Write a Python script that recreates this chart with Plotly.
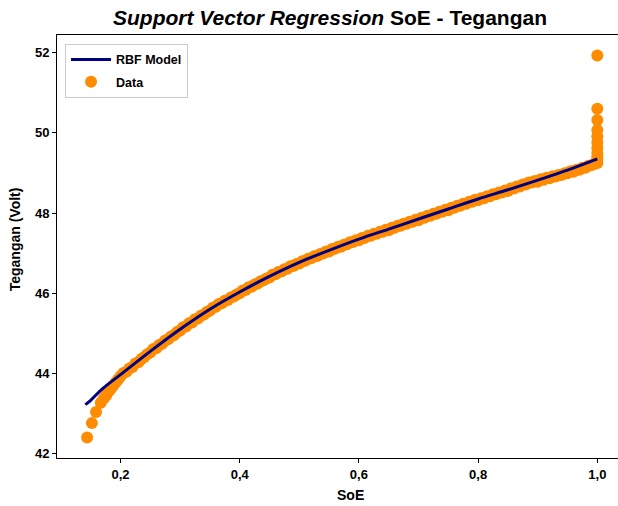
import plotly.graph_objects as go

# SVR (RBF kernel) fitted curve: state of energy vs. battery voltage
model_soe = [0.141, 0.15, 0.17, 0.2, 0.25, 0.3, 0.35, 0.4, 0.45, 0.5,
             0.55, 0.6, 0.65, 0.7, 0.75, 0.8, 0.85, 0.9, 0.95, 1.0]
model_volt = [43.22, 43.33, 43.62, 43.97, 44.55, 45.10, 45.60, 46.03, 46.42, 46.77,
              47.07, 47.35, 47.60, 47.85, 48.10, 48.35, 48.58, 48.82, 49.07, 49.35]

# Measured samples
data_soe = [
    0.144, 0.152, 0.159, 0.167, 0.172, 0.176, 0.180, 0.184, 0.188, 0.192, 0.196,
    0.200, 0.205, 0.210, 0.215, 0.220, 0.225, 0.230, 0.235, 0.240, 0.245,
    0.250, 0.255, 0.260, 0.265, 0.270, 0.275, 0.280, 0.285, 0.290, 0.295,
    0.300, 0.305, 0.310, 0.315, 0.320, 0.325, 0.330, 0.335, 0.340, 0.345,
    0.350, 0.355, 0.360, 0.365, 0.370, 0.375, 0.380, 0.385, 0.390, 0.395,
    0.400, 0.405, 0.410, 0.415, 0.420, 0.425, 0.430, 0.435, 0.440, 0.445,
    0.450, 0.455, 0.460, 0.465, 0.470, 0.475, 0.480, 0.485, 0.490, 0.495,
    0.500, 0.505, 0.510, 0.515, 0.520, 0.525, 0.530, 0.535, 0.540, 0.545,
    0.550, 0.555, 0.560, 0.565, 0.570, 0.575, 0.580, 0.585, 0.590, 0.595,
    0.600, 0.605, 0.610, 0.615, 0.620, 0.625, 0.630, 0.635, 0.640, 0.645,
    0.650, 0.655, 0.660, 0.665, 0.670, 0.675, 0.680, 0.685, 0.690, 0.695,
    0.700, 0.705, 0.710, 0.715, 0.720, 0.725, 0.730, 0.735, 0.740, 0.745,
    0.750, 0.755, 0.760, 0.765, 0.770, 0.775, 0.780, 0.785, 0.790, 0.795,
    0.800, 0.805, 0.810, 0.815, 0.820, 0.825, 0.830, 0.835, 0.840, 0.845,
    0.850, 0.855, 0.860, 0.865, 0.870, 0.875, 0.880, 0.885, 0.890, 0.895,
    0.900, 0.905, 0.910, 0.915, 0.920, 0.925, 0.930, 0.935, 0.940, 0.945,
    0.950, 0.955, 0.960, 0.965, 0.970, 0.975, 0.980, 0.985, 0.990, 0.995,
    1.000, 1.000, 1.000, 1.000, 1.000, 1.000, 1.000, 1.000, 1.000, 1.000, 1.000,
]
data_volt = [
    42.40, 42.76, 43.04, 43.27, 43.38, 43.45, 43.55, 43.62, 43.70, 43.78, 43.85,
    43.93, 44.01, 44.04, 44.12, 44.16, 44.25, 44.28, 44.36, 44.41, 44.48,
    44.52, 44.61, 44.63, 44.71, 44.74, 44.82, 44.85, 44.92, 44.96, 45.03,
    45.07, 45.15, 45.17, 45.25, 45.27, 45.35, 45.37, 45.44, 45.47, 45.53,
    45.57, 45.64, 45.66, 45.73, 45.75, 45.81, 45.83, 45.89, 45.92, 45.97,
    46.00, 46.07, 46.08, 46.15, 46.16, 46.22, 46.24, 46.30, 46.32, 46.37,
    46.39, 46.46, 46.47, 46.53, 46.54, 46.60, 46.61, 46.67, 46.68, 46.73,
    46.74, 46.80, 46.81, 46.86, 46.87, 46.92, 46.93, 46.98, 46.99, 47.04,
    47.04, 47.10, 47.11, 47.16, 47.16, 47.21, 47.22, 47.27, 47.28, 47.32,
    47.32, 47.38, 47.38, 47.43, 47.43, 47.48, 47.48, 47.53, 47.53, 47.58,
    47.57, 47.63, 47.63, 47.68, 47.68, 47.73, 47.73, 47.78, 47.78, 47.83,
    47.82, 47.88, 47.88, 47.93, 47.93, 47.98, 47.98, 48.03, 48.03, 48.08,
    48.07, 48.13, 48.13, 48.18, 48.18, 48.23, 48.23, 48.28, 48.28, 48.33,
    48.32, 48.37, 48.37, 48.42, 48.42, 48.47, 48.47, 48.51, 48.51, 48.56,
    48.55, 48.61, 48.61, 48.66, 48.66, 48.71, 48.71, 48.76, 48.76, 48.80,
    48.78, 48.84, 48.83, 48.88, 48.87, 48.92, 48.91, 48.95, 48.95, 48.99,
    48.99, 49.04, 49.03, 49.08, 49.08, 49.13, 49.13, 49.18, 49.19, 49.22,
    49.25, 49.32, 49.40, 49.50, 49.62, 49.76, 49.91, 50.07, 50.32, 50.60, 51.93,
]

x_ticks = [0.2, 0.4, 0.6, 0.8, 1.0]
y_ticks = [42, 44, 46, 48, 50, 52]

font_family = "Liberation Sans, Arial, sans-serif"

fig = go.Figure()
fig.add_trace(go.Scatter(
    x=data_soe, y=data_volt, mode="markers", name="Data",
    legendgroup="data", legendrank=2,
    marker=dict(color="#FF8C00", size=12, line=dict(width=0)),
))
fig.add_trace(go.Scatter(
    x=model_soe, y=model_volt, mode="lines", name="RBF Model",
    legendgroup="model", legendrank=1,
    line=dict(color="#000080", width=3, shape="spline"),
))

fig.update_layout(
    width=618, height=506,
    margin=dict(l=57, r=0, t=35, b=48),
    paper_bgcolor="white", plot_bgcolor="white",
    separators=",.",
    font=dict(family=font_family, color="black"),
    title=dict(
        text="<b><i>Support Vector Regression</i> SoE - Tegangan</b>",
        x=0.534, xanchor="center", y=0.966, yanchor="middle",
        font=dict(size=21, family=font_family, color="black"),
    ),
    legend=dict(
        x=0.0143, y=0.979, xanchor="left", yanchor="top",
        bgcolor="white", bordercolor="#cccccc", borderwidth=1,
        font=dict(size=12.5, family=font_family, weight="bold"),
        traceorder="grouped",
        tracegroupgap=3,
        itemwidth=40,
    ),
    showlegend=True,
    annotations=[
        dict(text="<b>SoE</b>", xref="paper", yref="paper",
             x=0.524, y=-0.088, xanchor="center", yanchor="middle",
             showarrow=False, font=dict(size=14, family=font_family)),
        dict(text="<b>Tegangan (Volt)</b>", xref="paper", yref="paper",
             x=-0.0749, y=0.517, xanchor="center", yanchor="middle",
             textangle=-90, showarrow=False,
             font=dict(size=14, family=font_family)),
    ],
)

fig.update_xaxes(
    range=[0.0935, 1.0347],
    tickvals=x_ticks, tickformat=".1f",
    ticks="outside", ticklen=4, tickcolor="black",
    showline=True, linecolor="black", linewidth=1, mirror=True,
    showgrid=False, zeroline=False,
    tickfont=dict(size=13, weight="bold"),
)
fig.update_yaxes(
    range=[41.89, 52.44],
    tickvals=y_ticks,
    ticks="outside", ticklen=4, tickcolor="black",
    showline=True, linecolor="black", linewidth=1,
    showgrid=False, zeroline=False,
    tickfont=dict(size=13, weight="bold"),
)

fig.write_html("out.html")
